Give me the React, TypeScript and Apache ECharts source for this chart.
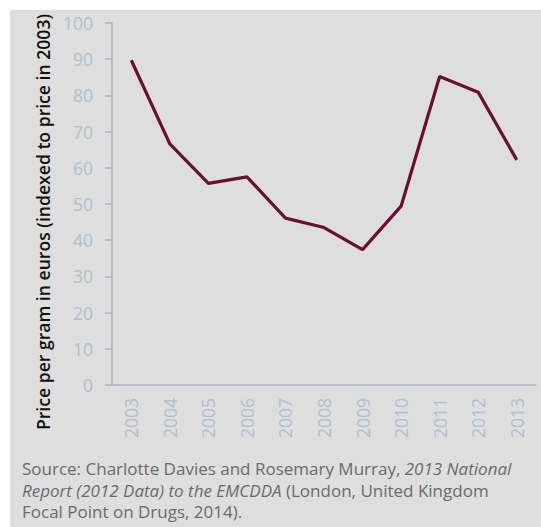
import React, { useEffect, useRef } from "react";
import * as echarts from "echarts";

const years = ["2003", "2004", "2005", "2006", "2007", "2008", "2009", "2010", "2011", "2012", "2013"];
const priceIndex = [89.7, 66.6, 55.7, 57.5, 46.1, 43.5, 37.4, 49.4, 85.2, 80.9, 62.2];
const yTitle = "Price per gram in euros (indexed to price in 2003)";

export default function App() {
  const ref = useRef<HTMLDivElement>(null);
  useEffect(() => {
    const chart = echarts.init(ref.current!, null, { renderer: "svg" });
    const axisCol = "#aab5c3";
    const labelCol = "#b3bfcd";
    chart.setOption({
      animation: false,
      backgroundColor: "#ffffff",
      graphic: [
        { type: "rect", shape: { x: 10, y: 10, width: 531, height: 517 }, style: { fill: "#dedede" }, z: -10 },
        {
          type: "text",
          x: 43,
          y: 222,
          rotation: Math.PI / 2,
          style: {
            text: yTitle,
            font: "600 17.6px 'Open Sans'",
            fill: "#111111",
            align: "center",
            verticalAlign: "middle",
          },
        },
        {
          type: "text",
          x: 22,
          y: 458,
          style: {
            text:
              "{n|Source: Charlotte Davies and Rosemary Murray, }{i|2013 National}\n{i|Report (2012 Data) to the EMCDDA}{n| (London, United Kingdom}\n{n|Focal Point on Drugs, 2014).}",
            rich: {
              n: { fontFamily: "Open Sans", fontSize: 17, fill: "#6b6b6b", lineHeight: 21.5 },
              i: { fontFamily: "Open Sans", fontStyle: "italic", fontSize: 17, fill: "#6b6b6b", lineHeight: 21.5 },
            },
          },
        },
      ],
      grid: { left: 112, right: 5, top: 23, bottom: 142, containLabel: false },
      xAxis: {
        type: "category",
        data: years,
        boundaryGap: true,
        axisLine: { lineStyle: { color: axisCol, width: 1.5 } },
        axisTick: { length: 6, lineStyle: { color: axisCol, width: 1.5 } },
        axisLabel: { rotate: 90, margin: 13, color: labelCol, fontFamily: "Open Sans", fontSize: 17.5 },
        splitLine: { show: false },
      },
      yAxis: {
        type: "value",
        min: 0,
        max: 100,
        interval: 10,
        axisLine: { show: true, lineStyle: { color: axisCol, width: 1.5 } },
        axisTick: { show: true, length: 7, lineStyle: { color: axisCol, width: 1.5 } },
        axisLabel: { margin: 19, color: labelCol, fontFamily: "Open Sans", fontSize: 17.5 },
        splitLine: { show: false },
      },
      series: [
        {
          type: "line",
          data: priceIndex,
          symbol: "none",
          lineStyle: { color: "#6a0f34", width: 3.2 },
        },
      ],
    });
    return () => chart.dispose();
  }, []);
  return <div ref={ref} style={{ width: 541, height: 527, position: "absolute", left: 0, top: 0 }} />;
}
